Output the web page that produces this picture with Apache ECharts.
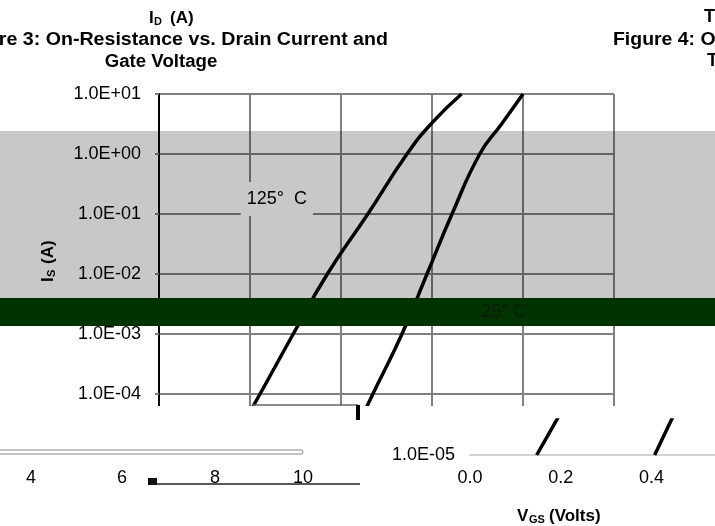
<!DOCTYPE html>
<html><head><meta charset="utf-8">
<script src="https://cdn.jsdelivr.net/npm/echarts@6/dist/echarts.min.js"></script>
<style>html,body{margin:0;padding:0;background:#fff}#c{width:715px;height:526px}</style>
</head><body><div id="c"></div>
<script>
// ---- data ----
const vgs125 = [0.147, 0.222, 0.295, 0.370, 0.459, 0.545, 0.600, 0.665];
const is125  = [1e-5, 1e-4, 1e-3, 1e-2, 1e-1, 1, 3.3, 10];
const vgs25  = [0.407, 0.470, 0.534, 0.589, 0.644, 0.705, 0.753, 0.800];
const is25   = [1e-5, 1e-4, 1e-3, 1e-2, 1e-1, 1, 3.16, 10];
const curveLabels = ['125°  C', '25° C'];
const labelV = [0.259, 0.758];
const labelI = [0.178, 0.00233];
const yTickLabels = ['1.0E-05','1.0E-04','1.0E-03','1.0E-02','1.0E-01','1.0E+00','1.0E+01'];
const xTickLabels = ['0.0','0.2','0.4'];
const strayTickLabels = ['4','6','8','10'];

const FF = '"Liberation Sans", Arial, sans-serif';
const pair = (xs, ys) => xs.map((x, i) => [x, ys[i]]);
const yFmt = v => {
  const e = Math.log10(v);
  const r = Math.round(e);
  if (Math.abs(e - r) > 0.01) return '';
  return yTickLabels[r + 5] || '';
};

const chart = echarts.init(document.getElementById('c'), null, {renderer: 'canvas'});
const gray = '#808080';

function txt(text, x, y, font, align, extra) {
  return Object.assign({
    type: 'text', z: 30,
    style: {text: text, x: x, y: y, font: font, fill: '#000',
      textAlign: align || 'left', align: align || 'left',
      textVerticalAlign: 'middle', verticalAlign: 'middle'}
  }, extra || {});
}
const B18 = 'bold 18px ' + FF, B17 = 'bold 17px ' + FF, B11 = 'bold 11px ' + FF, R18 = '18px ' + FF;
const curveStyle = {color: '#000', width: 3.5};

const option = {
  backgroundColor: '#fff',
  animation: false,
  grid: [
    {left: 159, top: 94, width: 455, height: 360},
    {left: 470, top: 420, width: 0.54 * 455, height: 35}
  ],
  xAxis: [
    {type: 'value', gridIndex: 0, min: 0, max: 1, interval: 0.2,
     axisLine: {show: false}, axisTick: {show: false}, axisLabel: {show: false},
     splitLine: {lineStyle: {color: gray, width: 2}}},
    {type: 'value', gridIndex: 1, min: 0, max: 0.54, interval: 0.2, z: 10,
     axisLine: {lineStyle: {color: '#c4c4c4', width: 1.5}}, axisTick: {show: false},
     splitLine: {show: false},
     axisLabel: {margin: 14, fontSize: 18, fontFamily: FF, color: '#000', showMaxLabel: false,
       formatter: v => xTickLabels[Math.round(v / 0.2)] || ''}}
  ],
  yAxis: [
    {type: 'log', logBase: 10, gridIndex: 0, min: 1e-5, max: 10,
     axisLine: {show: true, onZero: false, lineStyle: {color: '#000', width: 2}},
     axisTick: {show: true, length: 4, lineStyle: {color: gray, width: 2}},
     axisLabel: {margin: 18, fontSize: 18, fontFamily: FF, color: '#000', formatter: yFmt},
     splitLine: {lineStyle: {color: gray, width: 2}}},
    {type: 'log', logBase: 10, gridIndex: 1, min: 1e-5, max: Math.pow(10, -5 + 35 / 60), z: 10,
     axisLine: {show: false}, axisTick: {show: false}, splitLine: {show: false},
     axisLabel: {margin: 15, fontSize: 18, fontFamily: FF, color: '#000', showMaxLabel: false, formatter: yFmt}}
  ],
  series: [
    {name: '125C', type: 'line', xAxisIndex: 0, yAxisIndex: 0, data: pair(vgs125, is125),
     smooth: 0.5, symbol: 'none', lineStyle: curveStyle, z: 2},
    {name: '25C', type: 'line', xAxisIndex: 0, yAxisIndex: 0, data: pair(vgs25, is25),
     smooth: 0.5, symbol: 'none', lineStyle: curveStyle, z: 2},
    {name: '125C-b', type: 'line', xAxisIndex: 1, yAxisIndex: 1, data: pair(vgs125, is125),
     smooth: 0.5, symbol: 'none', lineStyle: curveStyle, z: 10},
    {name: '25C-b', type: 'line', xAxisIndex: 1, yAxisIndex: 1, data: pair(vgs25, is25),
     smooth: 0.5, symbol: 'none', lineStyle: curveStyle, z: 10},
    {name: 'labels', type: 'scatter', xAxisIndex: 0, yAxisIndex: 0, z: 25, symbolSize: 0,
     itemStyle: {color: '#000', opacity: 1},
     emphasis: {disabled: true},
     data: curveLabels.map((t, i) => ({
       value: [labelV[i], labelI[i]], name: t,
       label: i === 0
         ? {backgroundColor: '#c8c8c8', color: '#000', padding: [8, 6]}
         : {backgroundColor: 'transparent', color: '#0b1c0b', padding: [4, 4]}
     })),
     label: {show: true, position: 'inside', opacity: 1, textBorderWidth: 0,
       formatter: p => p.name, fontSize: 18, fontFamily: FF}}
  ],
  graphic: [
    // grey band (multiplied over the chart)
    {type: 'rect', z: 8, shape: {x: 0, y: 131, width: 715, height: 167},
     style: {fill: '#c8c8c8', blend: 'multiply'}},
    // dark green band
    {type: 'rect', z: 20, shape: {x: 0, y: 298, width: 715, height: 28}, style: {fill: '#003300'}},
    // white area below the cut plot
    {type: 'rect', z: 5, shape: {x: 0, y: 406, width: 715, height: 120}, style: {fill: '#fff'}},
    {type: 'line', z: 6, shape: {x1: 252, y1: 405, x2: 358, y2: 405}, style: {stroke: '#666', lineWidth: 1.5}},
    {type: 'rect', z: 6, shape: {x: 356, y: 405, width: 4, height: 15}, style: {fill: '#000'}},
    {type: 'rect', z: 6, shape: {x: -2, y: 450, width: 305, height: 4, r: 2}, style: {fill: '#fff', stroke: '#888', lineWidth: 1}},
    txt(strayTickLabels[0], 31, 478, R18, 'center', {z: 6}),
    txt(strayTickLabels[1], 122, 478, R18, 'center', {z: 6}),
    txt(strayTickLabels[2], 215, 478, R18, 'center', {z: 6}),
    txt(strayTickLabels[3], 303, 478, R18, 'center', {z: 6}),
    {type: 'rect', z: 12, shape: {x: 0, y: 483, width: 715, height: 18}, style: {fill: '#fff'}},
    {type: 'line', z: 13, shape: {x1: 148, y1: 484, x2: 360, y2: 484}, style: {stroke: '#222', lineWidth: 1.5}},
    {type: 'rect', z: 13, shape: {x: 148, y: 478, width: 9, height: 7}, style: {fill: '#111'}},
    // titles
    txt('I', 149, 18, B17, 'left'),
    txt('D', 154, 22, B11, 'left'),
    txt('(A)', 170, 18, B17, 'left'),
    txt('Figure 3: On-Resistance vs. Drain Current and', 0, 0, B18, 'right',
        {x: 388, y: 40, scaleX: 1.09}),
    txt('Gate Voltage', 0, 0, B18, 'center', {x: 161, y: 62, scaleX: 1.035}),
    txt('T', 704, 17, B18, 'left'),
    txt('Figure 4: On-Resistance Variation with', 0, 0, B18, 'left', {x: 613, y: 40, scaleX: 1.08}),
    txt('T', 707, 61, B18, 'left'),
    // x title
    txt('V', 517, 516, B17, 'left'),
    txt('GS', 529, 520, B11, 'left'),
    txt('(Volts)', 549, 516, B17, 'left'),
    // y title (rotated)
    {type: 'group', x: 48, y: 261, rotation: Math.PI / 2, z: 30, children: [
      txt('I', -21, 0, B17, 'left'),
      txt('S', -16, 4, B11, 'left'),
      txt('(A)', -3, 0, B17, 'left')
    ]}
  ]
};
chart.setOption(option);
</script>
</body></html>
